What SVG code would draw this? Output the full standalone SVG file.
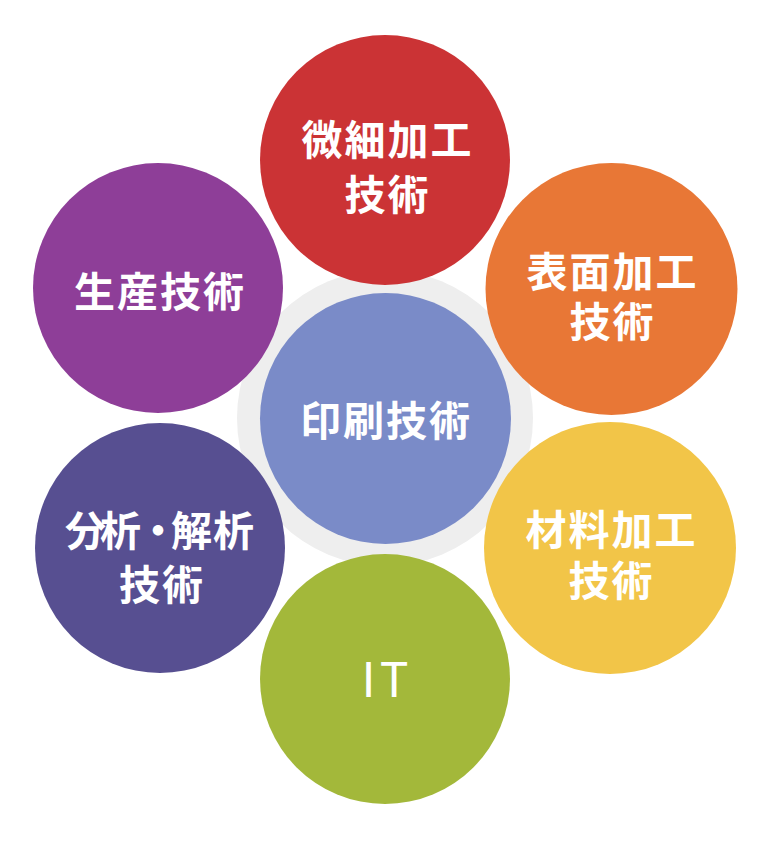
<svg xmlns="http://www.w3.org/2000/svg" width="768" height="850" viewBox="0 0 768 850">
<style>
.lbl{font-family:"Noto Sans CJK JP","Noto Sans CJK SC",sans-serif;font-size:41px;font-weight:700;fill:#ffffff;text-anchor:middle;letter-spacing:2px}
.seq{font-family:"Noto Sans CJK JP","Noto Sans CJK SC",sans-serif;font-size:41px;font-weight:700;fill:#ffffff}
.it{font-family:"Noto Sans CJK JP","Noto Sans",sans-serif;font-size:48px;font-weight:400;fill:#ffffff;text-anchor:middle;letter-spacing:4px}
</style>
<rect width="768" height="850" fill="#ffffff"/>
<g id="ring"><circle cx="385" cy="418" r="148" fill="#eeeeee"/></g>
<g id="center-node">
<circle cx="385.5" cy="418.5" r="125.5" fill="#7a8bc8"/>
<text class="lbl" x="386" y="435.5">印刷技術</text>
</g>
<g id="node-micro">
<circle cx="385" cy="160" r="125" fill="#cb3335"/>
<text class="lbl" x="387.5" y="155">微細加工</text>
<text class="lbl" x="387.5" y="209.5">技術</text>
</g>
<g id="node-surface">
<circle cx="611.5" cy="289" r="126" fill="#e87736"/>
<text class="lbl" x="612.5" y="286.5">表面加工</text>
<text class="lbl" x="612.5" y="336.5">技術</text>
</g>
<g id="node-material">
<circle cx="610" cy="548" r="126" fill="#f2c548"/>
<text class="lbl" x="611.5" y="544.5">材料加工</text>
<text class="lbl" x="611.5" y="596">技術</text>
</g>
<g id="node-it">
<circle cx="385" cy="679" r="125" fill="#a3b83a"/>
<text class="it" x="387" y="697">IT</text>
</g>
<g id="node-analysis">
<circle cx="160" cy="548" r="125" fill="#574f91"/>
<text class="seq" x="65 100 137.5 171 213" y="546">分析・解析</text>
<text class="lbl" x="162" y="599.5">技術</text>
</g>
<g id="node-production">
<circle cx="158" cy="288" r="125" fill="#8e3e98"/>
<text class="lbl" x="160" y="306.5">生産技術</text>
</g>
<g id="connectors"></g>
</svg>
